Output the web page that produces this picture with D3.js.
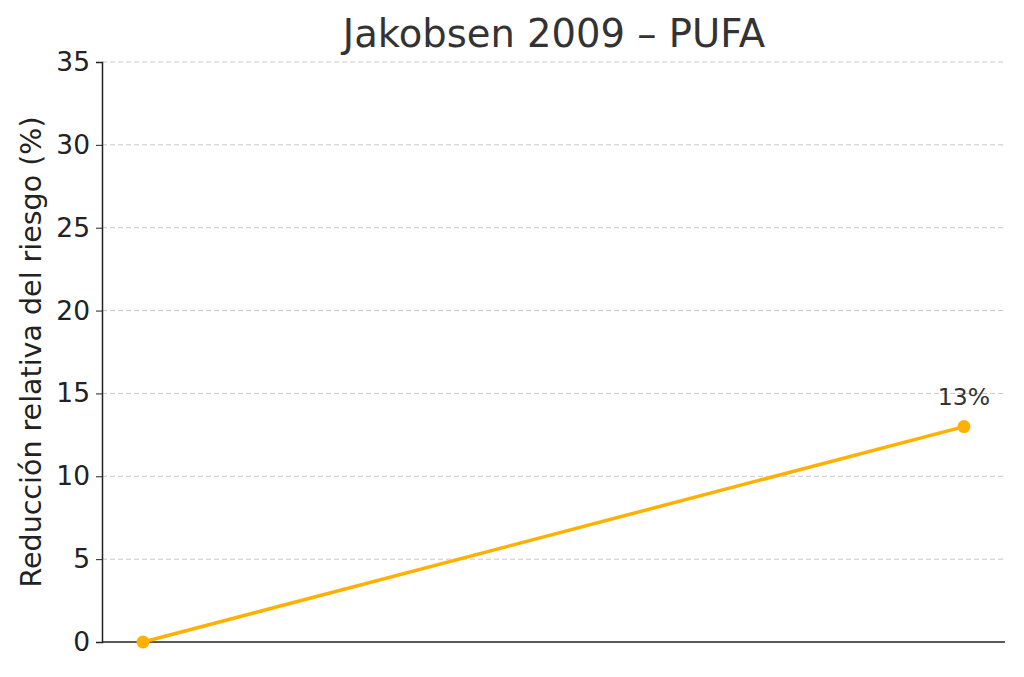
<!DOCTYPE html>
<html><head><meta charset="utf-8">
<script src="https://cdn.jsdelivr.net/npm/d3@7"></script>
<style>body{margin:0;background:#fff;font-family:"DejaVu Sans",sans-serif;}</style>
</head><body><svg id="c" width="1024" height="677"></svg>
<script>
const categories = ["Control", "PUFA"];
const values = [0, 13];
const yTicks = [0, 5, 10, 15, 20, 25, 30, 35];
const labels = ["", "13%"];

const svg = d3.select("#c");
const m = {l:102, r:1005, t:62, b:642};
const x = d3.scaleLinear().domain([-0.05, 1.05]).range([m.l, m.r]);
const y = d3.scaleLinear().domain([0, 35]).range([m.b, m.t]);
const col = "#FFB000";

svg.append("g").selectAll("line").data(yTicks.slice(1)).join("line")
  .attr("x1", m.l).attr("x2", m.r).attr("y1", d=>y(d)).attr("y2", d=>y(d))
  .attr("stroke", "#c8c8c8").attr("stroke-dasharray", "5,3").attr("stroke-width", 1);

const ya = svg.append("g").attr("transform", `translate(${m.l},0)`)
  .call(d3.axisLeft(y).tickValues(yTicks).tickSize(6).tickPadding(6));
ya.select(".domain").attr("stroke", "#222").attr("stroke-width", 1.5);
ya.selectAll(".tick line").attr("stroke", "#222");
ya.selectAll("text").attr("font-size", 26.5).attr("fill", "#222").attr("font-family", "DejaVu Sans");

svg.append("line").attr("x1", m.l).attr("x2", m.r).attr("y1", m.b).attr("y2", m.b)
  .attr("stroke", "#222").attr("stroke-width", 1.5);

const line = d3.line().x((d,i)=>x(i)).y(d=>y(d));
svg.append("path").datum(values).attr("d", line).attr("fill", "none")
  .attr("stroke", col).attr("stroke-width", 3.5);
svg.selectAll("circle.p").data(values).join("circle")
  .attr("cx", (d,i)=>x(i)).attr("cy", d=>y(d)).attr("r", 6.5).attr("fill", col);
svg.selectAll("text.lab").data(values).join("text")
  .attr("x", (d,i)=>x(i)).attr("y", d=>y(d)-22).attr("text-anchor", "middle")
  .attr("font-size", 23.5).attr("fill", "#333").text((d,i)=>labels[i]);

svg.append("text").attr("x", 554).attr("y", 47).attr("text-anchor", "middle")
  .attr("font-size", 38.5).attr("fill", "#333").text("Jakobsen 2009 – PUFA");
svg.append("text").attr("transform", `translate(41,${(m.t+m.b)/2}) rotate(-90)`)
  .attr("text-anchor", "middle").attr("font-size", 28.5).attr("fill", "#222")
  .text("Reducción relativa del riesgo (%)");
</script></body></html>
